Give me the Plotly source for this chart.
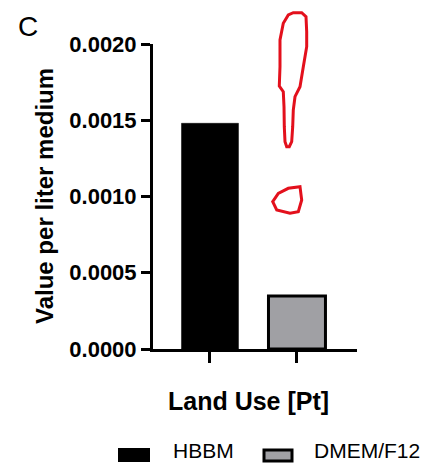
import plotly.graph_objects as go

# data
categories = ['HBBM', 'DMEM/F12']
values = [0.00148, 0.000347]
fills = ['#000000', '#a0a0a4']

# plot area in pixels (for placing decorations)
L, R, T, B = 153, 357, 44, 349
W, H = R - L, B - T


def px(x):
    return (x - L) / W


def py(y):
    return (B - y) / H


def path(pts):
    s = 'M' + ' L'.join('%.4f,%.4f' % (px(a), py(b)) for a, b in pts)
    return s + ' Z'


fig = go.Figure()
for c, v, f in zip(categories, values, fills):
    fig.add_bar(x=[c], y=[v], marker_color=f, width=0.655,
                marker_line_color='#000000', marker_line_width=3 if f != '#000000' else 0.5,
                showlegend=False)

# red hand-drawn exclamation
bang = [(293.3, 12.7), (301.7, 12.7), (306, 16.7), (306.7, 31.7), (306.7, 46.7), (303.3, 66.7),
        (300, 86.7), (295, 96.7), (293.3, 110), (292.7, 126.7), (291.7, 141.7), (289.3, 146.7),
        (286.7, 146.7), (285, 141.7), (284.3, 126.7), (284, 106.7), (283.3, 91.7), (279.3, 86),
        (280, 66.7), (280, 40), (283.3, 23.3), (288.3, 15)]
dot = [(300, 186.7), (301.7, 200), (298.3, 211.7), (290, 213.3), (276.7, 210), (272.7, 201.7),
       (278.3, 193.3), (288.3, 188.3)]
shapes = []
for p in (bang, dot):
    shapes.append(dict(type='path', xref='paper', yref='paper', path=path(p),
                       line=dict(color='#e3101c', width=3), layer='above'))

# legend swatches
shapes.append(dict(type='rect', xref='paper', yref='paper', x0=px(118), x1=px(150), y0=py(448), y1=py(462),
                   fillcolor='#000000', line=dict(width=0)))
shapes.append(dict(type='rect', xref='paper', yref='paper', x0=px(264), x1=px(292), y0=py(450), y1=py(461),
                   fillcolor='#a0a0a4', line=dict(color='#000000', width=3)))

ann = [
    dict(text='C', x=px(28), y=py(26), font=dict(size=28)),
    dict(text='<b>Value per liter medium</b>', x=px(44), y=py(196), textangle=-90, font=dict(size=24)),
    dict(text='<b>Land Use [Pt]</b>', x=px(248), y=py(401), font=dict(size=25)),
    dict(text='HBBM', x=px(171), y=py(464), xanchor='left', yanchor='bottom', font=dict(size=21)),
    dict(text='DMEM/F12', x=px(312), y=py(464), xanchor='left', yanchor='bottom', font=dict(size=21)),
]
for a in ann:
    a.setdefault('xanchor', 'center')
    a.setdefault('yanchor', 'middle')
    a.update(xref='paper', yref='paper', showarrow=False)

fig.update_layout(
    width=444, height=465,
    margin=dict(l=L, r=444 - R, t=T, b=465 - B),
    plot_bgcolor='white', paper_bgcolor='white',
    font=dict(family='Liberation Sans, Arial, sans-serif', color='#000000'),
    shapes=shapes, annotations=ann,
    xaxis=dict(range=[-0.655, 1.69], showline=True, linewidth=3, linecolor='#000000',
               ticks='outside', ticklen=11, tickwidth=3, tickcolor='#000000',
               showticklabels=False, showgrid=False, zeroline=False),
    yaxis=dict(range=[0, 0.002], dtick=0.0005, tickformat='.4f', showline=True, linewidth=3,
               linecolor='#000000', ticks='outside', ticklen=9, tickwidth=3, tickcolor='#000000',
               tickfont=dict(size=22, family='Liberation Sans, Arial, sans-serif'),
               showgrid=False, zeroline=False),
)
# bold tick labels
fig.update_yaxes(tickprefix='<b>', ticksuffix='</b>')

# drop the page's default body margin so the figure sits at the window's corner
fig.write_html("out.html", config={'displayModeBar': False},
               post_script="document.body.style.margin='0';document.body.style.overflow='hidden';")
